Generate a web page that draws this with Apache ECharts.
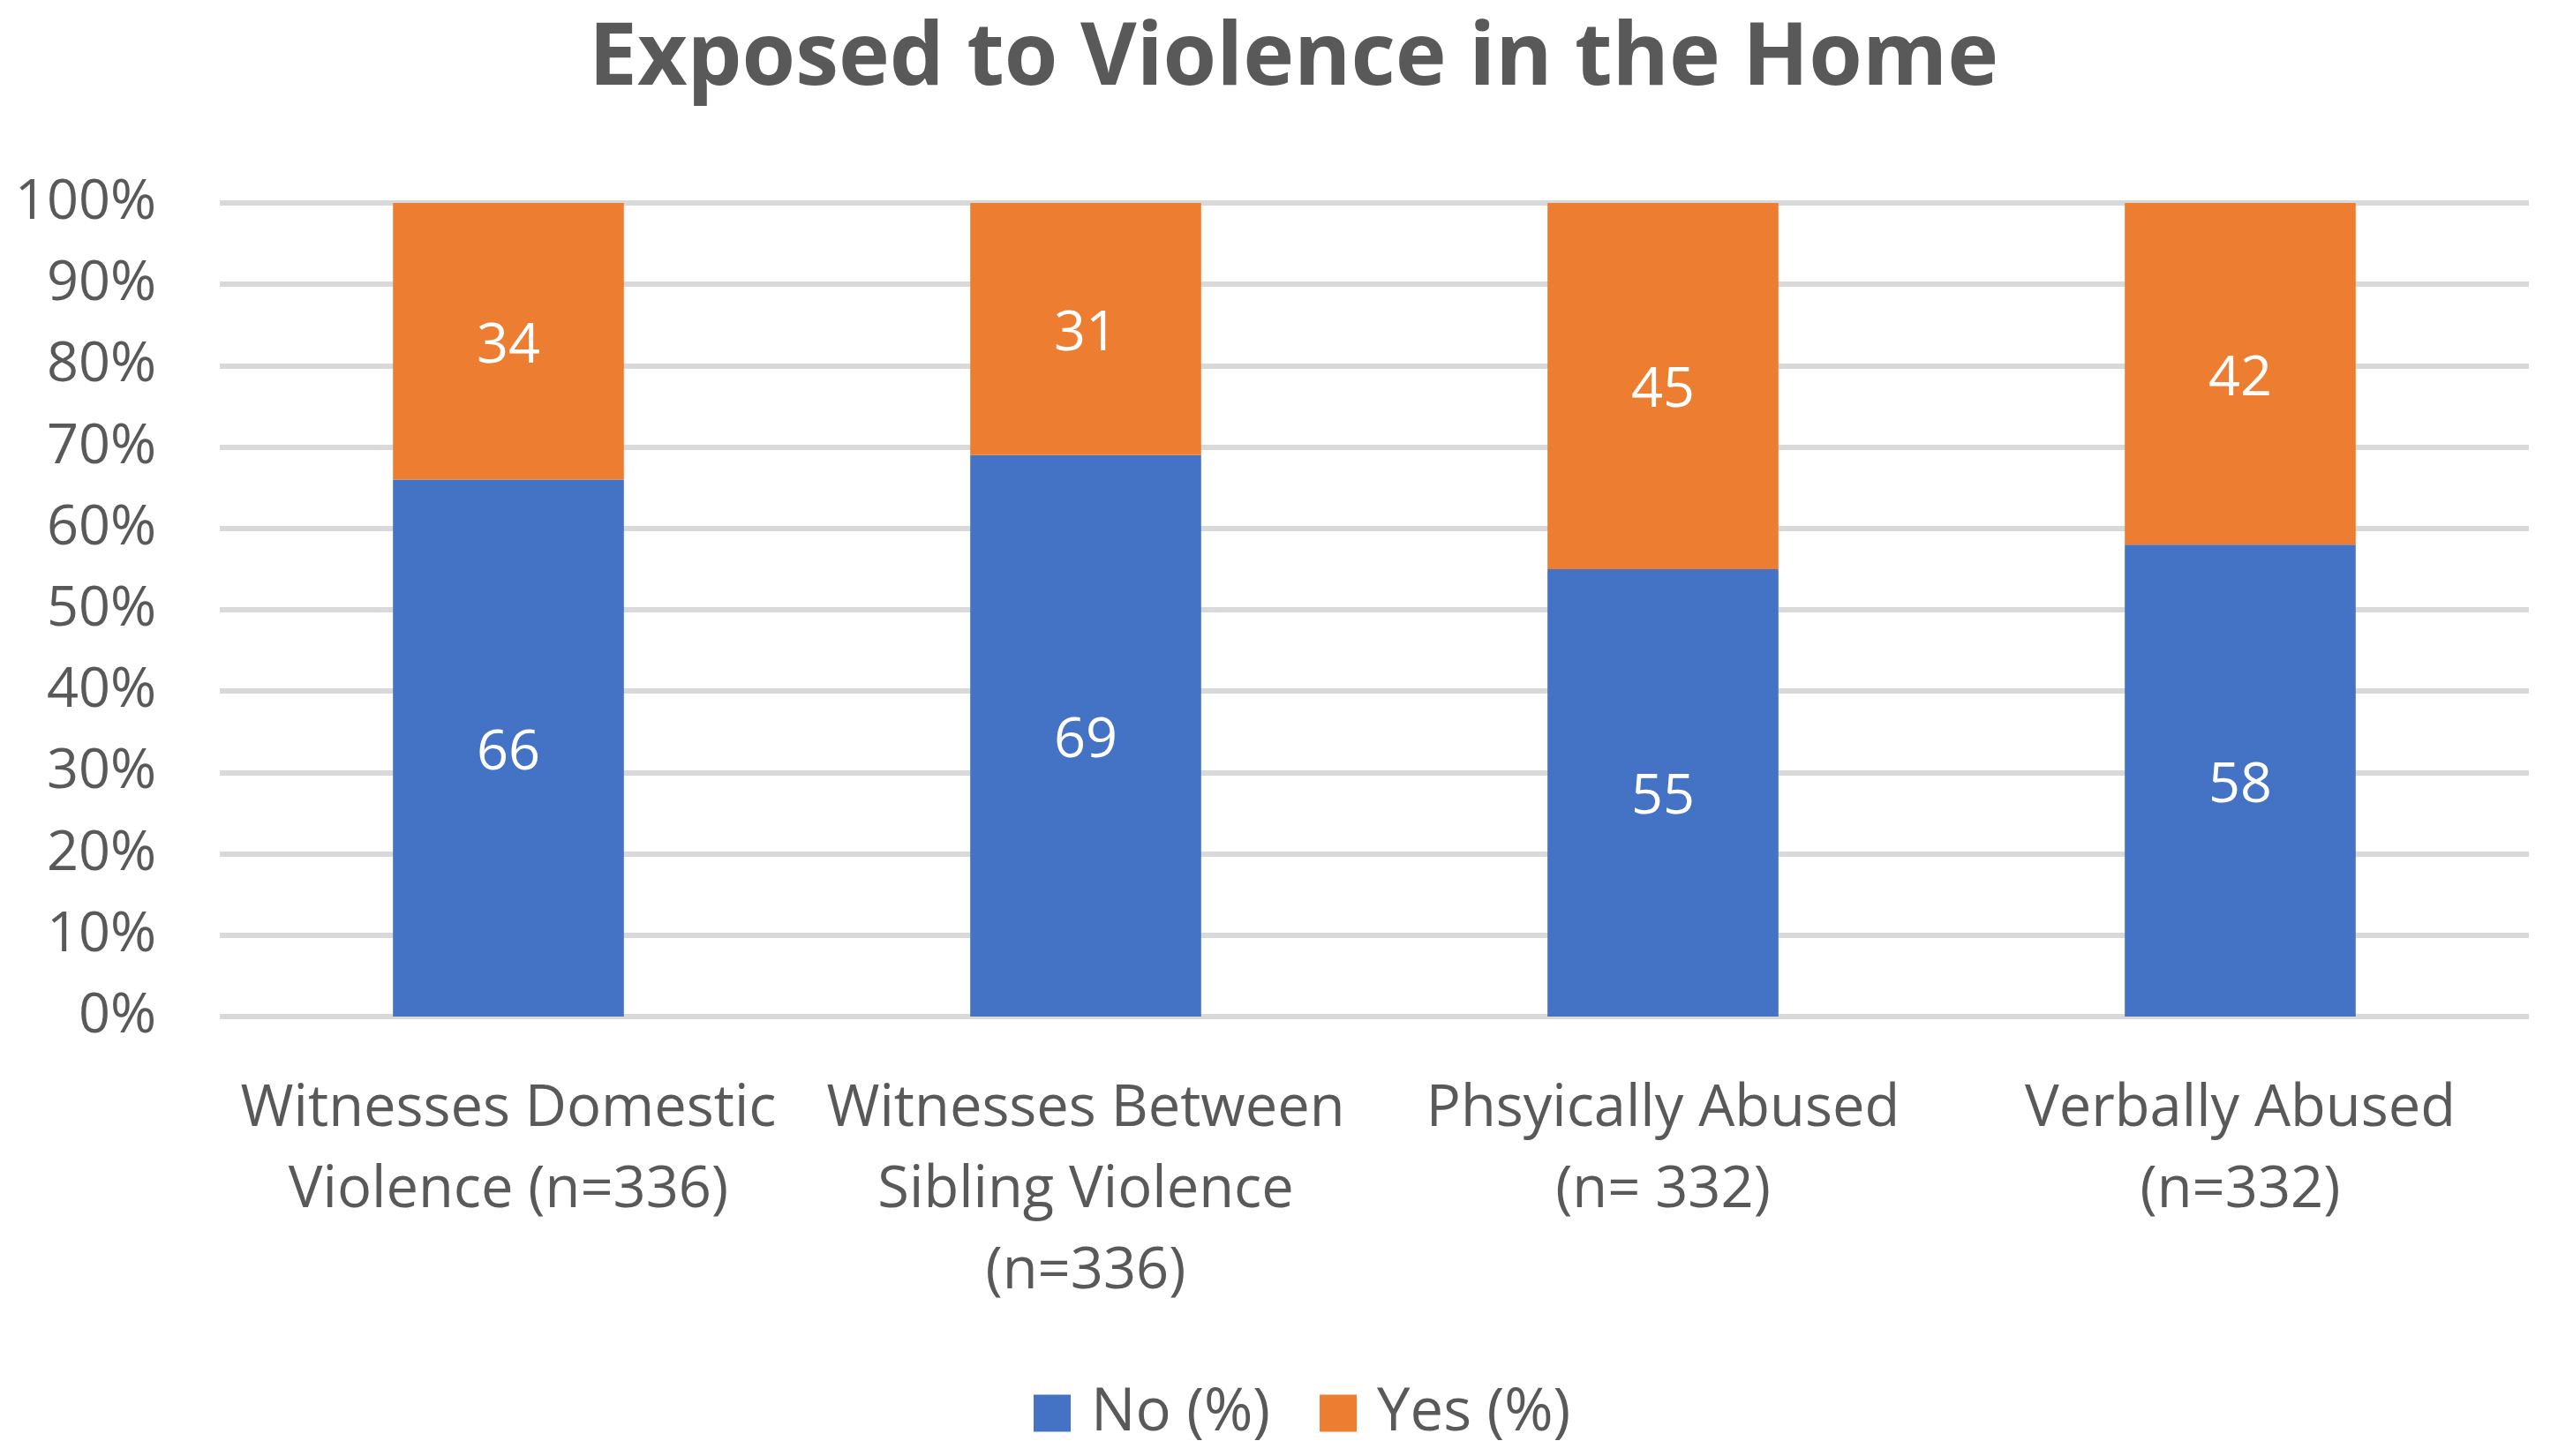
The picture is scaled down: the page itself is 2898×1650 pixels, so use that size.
<!DOCTYPE html>
<html>
<head>
<meta charset="utf-8">
<script src="https://cdn.jsdelivr.net/npm/echarts@6/dist/echarts.min.js"></script>
<style>html,body{margin:0;padding:0;background:#fff}#c{width:2898px;height:1650px}</style>
</head>
<body>
<div id="c"></div>
<script>
const categories = [
  "Witnesses Domestic\nViolence (n=336)",
  "Witnesses Between\nSibling Violence\n(n=336)",
  "Phsyically Abused\n(n= 332)",
  "Verbally Abused\n(n=332)"
];
const noValues = [66, 69, 55, 58];
const yesValues = [34, 31, 45, 42];
const seriesNames = ["No (%)", "Yes (%)"];
const titleText = "Exposed to Violence in the Home";

const FONT = "Open Sans";
const chart = echarts.init(document.getElementById('c'), null, {renderer: 'canvas'});
chart.setOption({
  animation: false,
  backgroundColor: '#ffffff',
  title: {
    text: titleText,
    left: 662,
    top: 14,
    textStyle: {fontFamily: FONT, fontWeight: 'bold', fontSize: 98, color: '#595959'}
  },
  legend: {
    bottom: 10,
    left: 1166,
    itemWidth: 42,
    itemHeight: 42,
    itemGap: 56,
    icon: 'rect',
    textStyle: {fontFamily: FONT, fontSize: 67, color: '#595959', padding: [0, 0, 0, 18]},
    data: seriesNames
  },
  grid: {left: 249, right: 33, top: 230, bottom: 498},
  xAxis: {
    type: 'category',
    data: categories,
    axisLine: {show: false},
    axisTick: {show: false},
    axisLabel: {
      fontFamily: FONT, fontSize: 65, color: '#595959', lineHeight: 92, margin: 59, interval: 0
    }
  },
  yAxis: {
    type: 'value',
    min: 0, max: 100, interval: 10,
    axisLine: {show: false},
    axisTick: {show: false},
    axisLabel: {formatter: '{value}%', fontFamily: FONT, fontSize: 63, color: '#595959', margin: 72},
    splitLine: {lineStyle: {color: '#D9D9D9', width: 6}}
  },
  series: [
    {
      name: seriesNames[0], type: 'bar', stack: 'total', data: noValues,
      barWidth: '40%',
      itemStyle: {color: '#4472C4'},
      label: {show: true, position: 'inside', offset: [0, 6], color: '#ffffff', fontFamily: FONT, fontSize: 63}
    },
    {
      name: seriesNames[1], type: 'bar', stack: 'total', data: yesValues,
      barWidth: '40%',
      itemStyle: {color: '#ED7D31'},
      label: {show: true, position: 'inside', offset: [0, 6], color: '#ffffff', fontFamily: FONT, fontSize: 63}
    }
  ]
});
</script>
</body>
</html>
